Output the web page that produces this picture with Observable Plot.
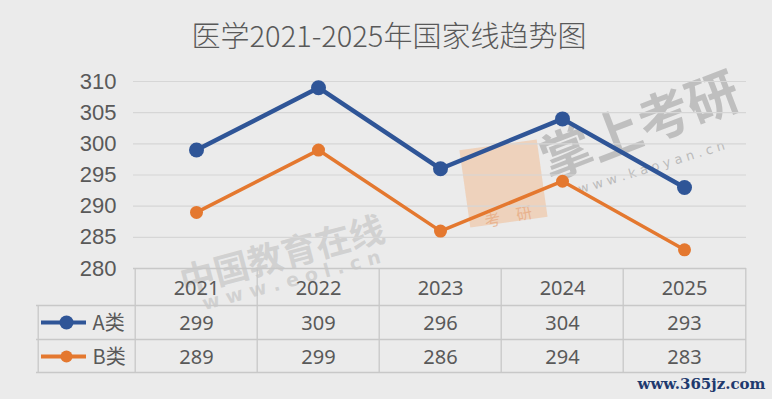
<!DOCTYPE html>
<html>
<head>
<meta charset="utf-8">
<script src="https://cdn.jsdelivr.net/npm/d3@7"></script>
<script src="https://cdn.jsdelivr.net/npm/@observablehq/plot@0.6"></script>
<style>
  html, body { margin: 0; padding: 0; background: #ebebeb; }
  #chart { width: 772px; height: 399px; overflow: hidden; }
  svg { display: block; }
</style>
</head>
<body>
<div id="chart"></div>
<script>
const title = "医学2021-2025年国家线趋势图";
const years = ["2021", "2022", "2023", "2024", "2025"];
const seriesNames = ["A类", "B类"];
const valuesA = [299, 309, 296, 304, 293];
const valuesB = [289, 299, 286, 294, 283];
const yTicks = [280, 285, 290, 295, 300, 305, 310];
const colors = ["#2f5597", "#e4782f"];

const rows = [
  ...years.map((yr, i) => ({year: yr, value: valuesA[i], series: seriesNames[0]})),
  ...years.map((yr, i) => ({year: yr, value: valuesB[i], series: seriesNames[1]}))
];
const rowA = rows.filter(d => d.series === seriesNames[0]);
const rowB = rows.filter(d => d.series === seriesNames[1]);

const half = 613 / 10; // half column width in px
const txt = "#595959";
const gridCol = "#d6d6d6";
const tableCol = "#c8c8c8";
const cjk = "'Noto Sans CJK SC', sans-serif";
const tableFont = "'Noto Sans', sans-serif";

const cell = (data, dy, text) => Plot.text(data, {x: d => (d.year ?? d), frameAnchor: "bottom", dy, text,
  textAnchor: "middle", lineAnchor: "middle", fontSize: 20, fill: txt, fontFamily: tableFont});

const chart = Plot.plot({
  width: 772,
  height: 399,
  marginTop: 81,
  marginBottom: 131,
  marginLeft: 133,
  marginRight: 26,
  style: {background: "#ebebeb", overflow: "visible"},
  x: {type: "point", domain: years, padding: 0.5, axis: null},
  y: {domain: [280, 310], axis: null, label: null},
  marks: [
    // title
    Plot.text([title], {frameAnchor: "top", dx: -51, dy: -44, text: d => d,
      textAnchor: "middle", lineAnchor: "middle",
      fontSize: 29, fill: txt, fontFamily: cjk, fontWeight: 300}),
    // watermarks
    Plot.dot(["logo"], {frameAnchor: "top-left", dx: 370, dy: 102, symbol: "square", r: 44, rotate: -8,
      fill: "#f2b483", fillOpacity: 0.45, stroke: "none"}),
    Plot.text(["考　研"], {frameAnchor: "top-left", dx: 375, dy: 136, text: d => d, rotate: -12,
      textAnchor: "middle", lineAnchor: "middle",
      fontSize: 16, fill: "#e6a57a", fillOpacity: 0.7, fontFamily: cjk}),
    Plot.text(["中国教育在线"], {frameAnchor: "bottom-left", dx: 149, dy: -12, text: d => d, rotate: -15,
      textAnchor: "middle", lineAnchor: "middle",
      fontSize: 35, fontWeight: "bold", fill: "#a0a0a0", fillOpacity: 0.35, fontFamily: cjk}),
    Plot.text(["w w w . e o l . c n"], {frameAnchor: "bottom-left", dx: 158, dy: 12, text: d => d, rotate: -15,
      textAnchor: "middle", lineAnchor: "middle",
      fontSize: 19, fontWeight: "bold", fill: "#a0a0a0", fillOpacity: 0.35, fontFamily: "'DejaVu Sans', sans-serif"}),
    Plot.text(["掌上考研"], {frameAnchor: "top-left", dx: 507, dy: 46, text: d => d, rotate: -21,
      textAnchor: "middle", lineAnchor: "middle",
      fontSize: 52, fontWeight: "bold", fill: "#8a8a8a", fillOpacity: 0.45, fontFamily: cjk}),
    Plot.text(["w w w . k a o y a n . c n"], {frameAnchor: "top-left", dx: 518, dy: 86, text: d => d, rotate: -17,
      textAnchor: "middle", lineAnchor: "middle",
      fontSize: 13, fill: "#8a8a8a", fillOpacity: 0.5, fontFamily: "'DejaVu Sans', sans-serif"}),
    Plot.text(["www.365jz.com"], {frameAnchor: "bottom-right", dx: 19, dy: 116, text: d => d,
      textAnchor: "end", lineAnchor: "middle",
      fontSize: 15, fontWeight: "bold", fill: "#1f3a6e", fontFamily: "'DejaVu Serif', serif"}),
    // grid
    Plot.gridY(yTicks, {stroke: gridCol, strokeOpacity: 1, strokeWidth: 1.2}),
    // y axis labels
    Plot.axisY(yTicks, {tickSize: 0, tickPadding: 17, fontSize: 22, fill: txt, label: null,
      fontFamily: "Arial, 'Liberation Sans', sans-serif"}),
    // table horizontal borders
    Plot.ruleY([280], {stroke: tableCol, strokeWidth: 1.3}),
    Plot.ruleY([280], {dy: 37, insetLeft: -97, stroke: tableCol, strokeWidth: 1.3}),
    Plot.ruleY([280], {dy: 71, insetLeft: -97, stroke: tableCol, strokeWidth: 1.3}),
    Plot.ruleY([280], {dy: 104, insetLeft: -97, stroke: tableCol, strokeWidth: 1.3}),
    // table vertical borders
    Plot.ruleX(years, {dx: -half, insetTop: 187, insetBottom: -104, stroke: tableCol, strokeWidth: 1.3}),
    Plot.ruleX(years.slice(-1), {dx: half, insetTop: 187, insetBottom: -104, stroke: tableCol, strokeWidth: 1.3}),
    Plot.ruleX(years.slice(0, 1), {dx: -half - 97, insetTop: 224, insetBottom: -104, stroke: tableCol, strokeWidth: 1.3}),
    // table text
    cell(years, 20, d => d),
    cell(rowA, 55, d => String(d.value)),
    cell(rowB, 89, d => String(d.value)),
    // table legend keys
    Plot.ruleY([280], {dy: 54, insetLeft: -92, insetRight: 660, stroke: colors[0], strokeWidth: 4}),
    Plot.dot(rowA.slice(0, 1), {x: "year", frameAnchor: "bottom", dx: -130, dy: 54, r: 7, fill: colors[0], stroke: "none"}),
    Plot.ruleY([280], {dy: 88, insetLeft: -92, insetRight: 660, stroke: colors[1], strokeWidth: 4}),
    Plot.dot(rowB.slice(0, 1), {x: "year", frameAnchor: "bottom", dx: -130, dy: 88, r: 6, fill: colors[1], stroke: "none"}),
    Plot.text(seriesNames.slice(0, 1), {x: () => years[0], frameAnchor: "bottom", dx: -104, dy: 55, text: d => d,
      textAnchor: "start", lineAnchor: "middle", fontSize: 20, fill: txt, fontFamily: cjk}),
    Plot.text(seriesNames.slice(1, 2), {x: () => years[0], frameAnchor: "bottom", dx: -104, dy: 89, text: d => d,
      textAnchor: "start", lineAnchor: "middle", fontSize: 20, fill: txt, fontFamily: cjk}),
    // series lines & markers
    Plot.line(rowA, {x: "year", y: "value", stroke: colors[0], strokeWidth: 4.5}),
    Plot.dot(rowA, {x: "year", y: "value", r: 7.5, fill: colors[0], stroke: "none"}),
    Plot.line(rowB, {x: "year", y: "value", stroke: colors[1], strokeWidth: 3.5}),
    Plot.dot(rowB, {x: "year", y: "value", r: 6.5, fill: colors[1], stroke: "none"})
  ]
});
document.getElementById("chart").appendChild(chart);
</script>
</body>
</html>
